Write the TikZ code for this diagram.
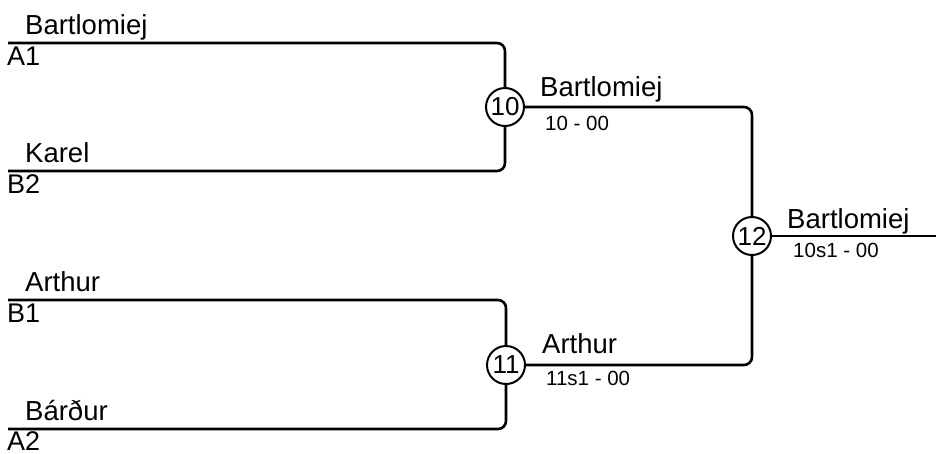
\documentclass[tikz,border=0pt]{standalone}
\usepackage{fontspec}
\setmainfont{Liberation Sans}
\begin{document}
\begin{tikzpicture}[x=1pt,y=-1pt,
  wire/.style={line width=2.6pt,rounded corners=8pt},
  match/.style={circle,draw,line width=2pt,fill=white,minimum size=38pt,inner sep=0pt,font=\fontsize{26}{28}\selectfont},
  player/.style={anchor=base west,inner sep=0pt,font=\fontsize{27.5}{30}\selectfont},
  seed/.style={anchor=base west,inner sep=0pt,font=\fontsize{27}{30}\selectfont},
  score/.style={anchor=base west,inner sep=0pt,font=\fontsize{20.5}{23}\selectfont}]
\useasboundingbox (0,0) rectangle (936,453);
% match nodes
\node[match] (m10) at (505,107) {10};
\node[match] (m11) at (506,365) {11};
\node[match] (m12) at (752,236) {12};
% line starts
\coordinate (a1) at (8,43);
\coordinate (b2) at (8,171);
\coordinate (b1) at (8,300);
\coordinate (a2) at (8,429);
\coordinate (fin) at (936,236);
% wires
\draw[wire] (a1) -| (m10);
\draw[wire] (b2) -| (m10);
\draw[wire] (b1) -| (m11);
\draw[wire] (a2) -| (m11);
\draw[wire] (m10) -| (m12);
\draw[wire] (m11) -| (m12);
\draw[wire] (m12) -- (fin);
% first round
\node[player] (p1) at (25,34) {Bartlomiej};
\node[seed] (s1) at (7,65) {A1};
\node[player] (p2) at (25,162) {Karel};
\node[seed] (s2) at (7,193) {B2};
\node[player] (p3) at (25,291) {Arthur};
\node[seed] (s3) at (7,322) {B1};
\node[player] (p4) at (25,420) {Bárður};
\node[seed] (s4) at (7,450) {A2};
% second round
\node[player] (w10) at (540,96) {Bartlomiej};
\node[score] (r10) at (545,130) {10 - 00};
\node[player] (w11) at (542,353) {Arthur};
\node[score] (r11) at (546,385) {11s1 - 00};
% final
\node[player] (w12) at (787,228) {Bartlomiej};
\node[score] (r12) at (793,257) {10s1 - 00};
\end{tikzpicture}
\end{document}
